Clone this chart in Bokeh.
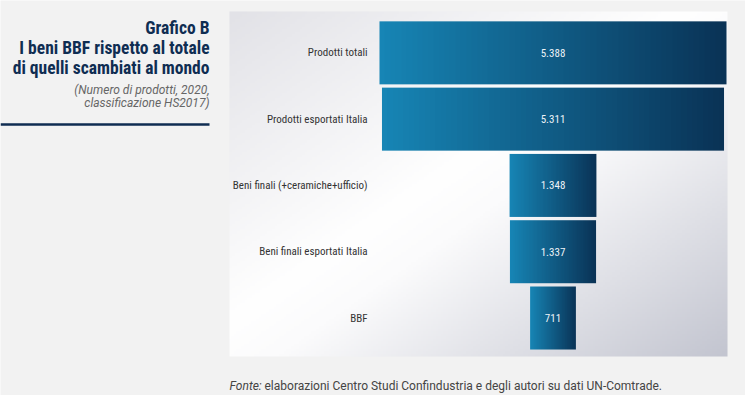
import numpy as np
from bokeh.plotting import figure
from bokeh.models import Range1d
from bokeh.core.properties import value
from bokeh.embed import file_html
from bokeh.resources import INLINE

# ---- data ----
categories = ["Prodotti totali", "Prodotti esportati Italia",
              "Beni finali (+ceramiche+ufficio)", "Beni finali esportati Italia", "BBF"]
values = [5388, 5311, 1348, 1337, 711]
value_labels = ["5.388", "5.311", "1.348", "1.337", "711"]
title_lines = ["Grafico B", "I beni BBF rispetto al totale", "di quelli scambiati al mondo"]
subtitle_lines = ["(Numero di prodotti, 2020,", "classificazione HS2017)"]
source_label = "Fonte:"
source_text = "elaborazioni Centro Studi Confindustria e degli autori su dati UN-Comtrade."

COND = "Roboto Condensed, Liberation Sans Narrow, DejaVu Sans Condensed, Roboto"
NAVY = "#0f2d52"

W, H = 745, 395
# main ranges: reference-pixel space (y negated so it grows upward)
p = figure(width=W, height=H, output_backend="svg", toolbar_location=None,
           x_range=Range1d(0, W), y_range=Range1d(-H, 0),
           min_border=0, min_border_left=0, min_border_right=0,
           min_border_top=0, min_border_bottom=0)
p.axis.visible = False
p.grid.visible = False
p.outline_line_color = None
p.background_fill_color = "#f2f2f2"
p.border_fill_color = "#f2f2f2"

# value scale (funnel centred on 0) and category index scale
px_per_unit = 347.0 / 5388.0
cx = 552.5
p.extra_x_ranges = {"val": Range1d((0 - cx) / px_per_unit, (W - cx) / px_per_unit)}
row_h = 66.29
y0 = 52.35
p.extra_y_ranges = {"idx": Range1d(-(H - y0) / row_h, -(0 - y0) / row_h)}

def hex2rgb(h):
    h = h.lstrip("#")
    return np.array([int(h[i:i + 2], 16) for i in (0, 2, 4)], dtype=float)

# ---- panel gradient background (to bottom right) ----
pw, ph = 200, 140
xs = np.linspace(0, 1, pw)[None, :]
ys = np.linspace(1, 0, ph)[:, None]  # row 0 = bottom
t = (xs + ys) / 2.0
stops = [(0.0, hex2rgb("#e2e2e7")), (0.45, hex2rgb("#ffffff")), (0.55, hex2rgb("#fbfbfc")), (1.0, hex2rgb("#c3c5d0"))]
img = np.zeros((ph, pw, 3))
for c in range(3):
    img[:, :, c] = np.interp(t, [s[0] for s in stops], [s[1][c] for s in stops])
rgba = np.zeros((ph, pw), dtype=np.uint32)
view = rgba.view(dtype=np.uint8).reshape((ph, pw, 4))
view[:, :, 0:3] = img.astype(np.uint8)
view[:, :, 3] = 255
p.image_rgba(image=[rgba], x=229, y=-356, dw=498, dh=345)

# ---- bars with horizontal gradient ----
left_c, right_c = hex2rgb("#1785b5"), hex2rgb("#0a3356")
gw = 64
g = np.zeros((1, gw), dtype=np.uint32)
gv = g.view(dtype=np.uint8).reshape((1, gw, 4))
for c in range(3):
    gv[0, :, c] = np.linspace(left_c[c], right_c[c], gw).astype(np.uint8)
gv[0, :, 3] = 255
idx = list(range(len(values)))
bar_h = 63.0 / row_h
p.image_rgba(image=[g] * len(values),
             x=[-v / 2 for v in values], y=[-i - bar_h / 2 for i in idx],
             dw=values, dh=[bar_h] * len(values),
             x_range_name="val", y_range_name="idx")

# value labels
p.text(x=[0] * len(values), y=[-i for i in idx], text=value_labels,
       x_range_name="val", y_range_name="idx",
       text_align="center", text_baseline="middle",
       text_font=value(COND), text_font_size="11px", text_color="#eef3f8")

# category labels
p.text(x=[367] * len(values), y=[-i for i in idx], text=categories,
       y_range_name="idx", text_align="right", text_baseline="middle",
       text_font=value(COND), text_font_size="11px", text_color="#333333")

# ---- title block ----
p.text(x=[209] * 3, y=[-27, -47, -67], text=title_lines,
       text_align="right", text_baseline="alphabetic",
       text_font=value(COND), text_font_size="17.5px", text_font_style="bold",
       text_color=NAVY)
p.text(x=[209] * 2, y=[-89, -102], text=subtitle_lines,
       text_align="right", text_baseline="alphabetic",
       text_font=value("Roboto"), text_font_size="12px", text_font_style="italic",
       text_color="#666666")
p.segment(x0=[0], y0=[-124], x1=[209], y1=[-124], line_color=NAVY, line_width=2.5)

# ---- source ----
p.text(x=[229], y=[-385], text=[source_label], text_align="left",
       text_baseline="alphabetic", text_font=value("Roboto"),
       text_font_size="12px", text_font_style="italic", text_color="#444444")
p.text(x=[264], y=[-385], text=[source_text], text_align="left",
       text_baseline="alphabetic", text_font=value("Roboto"),
       text_font_size="12px", text_color="#444444")

open("out.html", "w").write(file_html(p, INLINE))
